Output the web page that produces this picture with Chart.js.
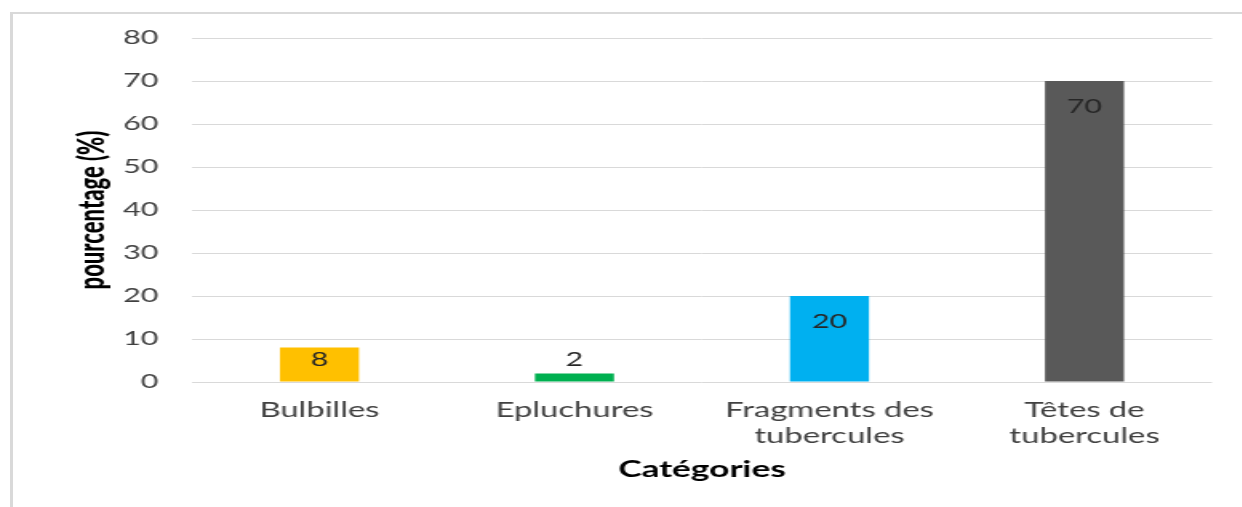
<!DOCTYPE html>
<html lang="fr">
<head>
<meta charset="utf-8">
<title>Catégories</title>
<script src="https://cdn.jsdelivr.net/npm/chart.js@4.4.1/dist/chart.umd.min.js"></script>
<style>
  html, body { margin: 0; padding: 0; background: #fff; overflow: hidden; }
  #frame {
    position: absolute; left: 10px; top: 12px; right: 0; bottom: 0;
    border-top: 2px solid #d9d9d9; border-left: 3px solid #d9d9d9;
  }
  /* the chart is drawn narrow and widened, like the exported figure */
  #wrap {
    position: absolute; left: 0; top: 0; width: 776px; height: 507px;
    transform: scaleX(1.6); transform-origin: 0 0;
  }
</style>
</head>
<body>
<div id="frame"></div>
<div id="wrap"><canvas id="chart" width="776" height="507"></canvas></div>
<script>
const categories = ['Bulbilles', 'Epluchures', ['Fragments des', 'tubercules'], ['Têtes de', 'tubercules']];
const percentages = [8, 2, 20, 70];
const barColors = ['#FFC000', '#00B050', '#00B0F0', '#595959'];
const yMin = 0, yMax = 80, yStep = 10;

// value labels: inside the top of the bar, above it when the bar is too short
const valueLabels = {
  id: 'valueLabels',
  afterDatasetsDraw(chart) {
    const ctx = chart.ctx;
    const meta = chart.getDatasetMeta(0);
    ctx.save();
    ctx.font = '19px Lato, "Open Sans", sans-serif';
    ctx.fillStyle = '#262626';
    ctx.textAlign = 'center';
    ctx.textBaseline = 'middle';
    meta.data.forEach((bar, i) => {
      const h = bar.base - bar.y;
      const y = h >= 22 ? bar.y + Math.min(26, h - 22) : bar.y - 14;
      ctx.fillText(String(percentages[i]), bar.x, y);
    });
    ctx.restore();
  }
};

new Chart(document.getElementById('chart'), {
  type: 'bar',
  data: {
    labels: categories,
    datasets: [{
      data: percentages,
      backgroundColor: barColors,
      borderWidth: 0,
      categoryPercentage: 1,
      barPercentage: 0.31
    }]
  },
  options: {
    responsive: false,
    devicePixelRatio: 1,
    animation: false,
    layout: { padding: { left: 44.3, right: 18.5, top: 38, bottom: 10 } },
    plugins: { legend: { display: false }, tooltip: { enabled: false } },
    scales: {
      x: {
        grid: { display: false },
        border: { display: false },
        ticks: {
          color: '#404040',
          padding: 7,
          maxRotation: 0,
          autoSkip: false,
          font: { family: 'Lato, "Open Sans", sans-serif', size: 20.5, lineHeight: 1.27 }
        },
        title: {
          display: true,
          text: 'Catégories',
          color: '#000',
          padding: { top: 0, bottom: 13.8 },
          font: { family: 'Lato, "Open Sans", sans-serif', size: 22, weight: 'bold', lineHeight: 1.2 }
        },
        afterFit(scale) { scale.height = 115; }
      },
      y: {
        min: yMin,
        max: yMax,
        grid: { color: '#d9d9d9', lineWidth: 1, drawTicks: false },
        border: { display: false },
        ticks: {
          stepSize: yStep,
          color: '#404040',
          padding: 21,
          font: { family: 'Lato, "Open Sans", sans-serif', size: 19 }
        },
        title: {
          display: true,
          text: 'pourcentage (%)',
          color: '#000',
          padding: { top: 0, bottom: 6 },
          font: { family: 'Lato, "Open Sans", sans-serif', size: 22, weight: 900, lineHeight: 1.2 }
        },
        afterFit(scale) { scale.width = 75.7; }
      }
    }
  },
  plugins: [valueLabels]
});
</script>
</body>
</html>
